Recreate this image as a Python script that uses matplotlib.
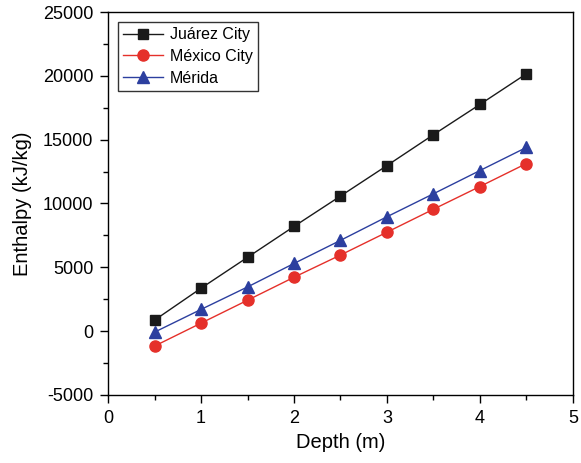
import matplotlib
matplotlib.use('Agg')
import matplotlib.pyplot as plt
from matplotlib.ticker import MultipleLocator

plt.rcParams['font.family'] = ['Liberation Sans', 'DejaVu Sans']
plt.rcParams['axes.unicode_minus'] = False

depth = [0.5, 1.0, 1.5, 2.0, 2.5, 3.0, 3.5, 4.0, 4.5]
juarez = [860, 3360, 5780, 8200, 10580, 12970, 15390, 17760, 20160]
mexico = [-1170, 625, 2420, 4220, 5960, 7750, 9550, 11330, 13130]
merida = [-80, 1700, 3460, 5300, 7110, 8960, 10760, 12580, 14390]

fig = plt.figure(figsize=(5.81, 4.63), dpi=100)
ax = fig.add_axes([0.186, 0.147, 0.80, 0.827])

ax.plot(depth, juarez, color='#1a1a1a', lw=1, marker='s', ms=7.5, label='Juárez City')
ax.plot(depth, mexico, color='#e5302a', lw=1, marker='o', ms=8, label='México City')
ax.plot(depth, merida, color='#2c3f9f', lw=1, marker='^', ms=9, label='Mérida')

ax.set_xlim(0, 5)
ax.set_ylim(-5000, 25000)
ax.xaxis.set_major_locator(MultipleLocator(1))
ax.xaxis.set_minor_locator(MultipleLocator(0.5))
ax.yaxis.set_major_locator(MultipleLocator(5000))
ax.yaxis.set_minor_locator(MultipleLocator(2500))
ax.tick_params(which='major', direction='out', length=5.5, width=1, labelsize=13, pad=5)
ax.tick_params(which='minor', direction='out', length=3.5, width=1)
ax.tick_params(top=False, right=False)
for s in ax.spines.values():
    s.set_linewidth(1)

ax.set_xlabel('Depth (m)', fontsize=14.5, labelpad=5)
ax.set_ylabel('Enthalpy (kJ/kg)', fontsize=14.5, labelpad=8)

leg = ax.legend(loc='upper left', fontsize=11.5, frameon=True, fancybox=False,
                edgecolor='black', borderpad=0.35, handlelength=2.5,
                labelspacing=0.42, handletextpad=0.4, borderaxespad=0.6)
leg.get_frame().set_linewidth(1)

fig.savefig('out.png', dpi=100)
